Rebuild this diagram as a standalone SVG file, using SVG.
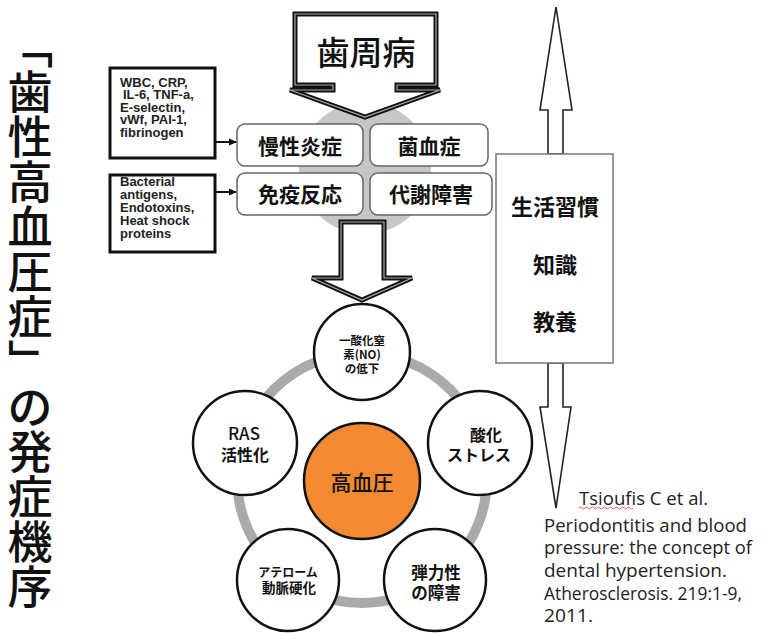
<svg xmlns="http://www.w3.org/2000/svg" width="767" height="633" viewBox="0 0 767 633">
<style>
.jp{font-family:"Noto Sans CJK JP","Noto Sans",sans-serif;fill:#111}
.tt{font-family:"Noto Sans CJK JP","Noto Sans",sans-serif;fill:#111;font-size:45px;font-weight:500;text-anchor:middle}
.en{font-family:"Liberation Sans",Arial,sans-serif;font-weight:700;fill:#222;font-size:13px}
.cite{font-family:"Open Sans","Liberation Sans",sans-serif;fill:#222;font-size:17.5px}
.rbox{fill:#fff;stroke:#666;stroke-width:1.5}
.sbox{fill:#fff;stroke:#111;stroke-width:3}
.circ{fill:#fff;stroke:#111;stroke-width:2.5}
.arrowOuter{fill:#fff;stroke:#111;stroke-width:5;stroke-linejoin:miter}
.arrowInner{fill:none;stroke:#aaa;stroke-width:1.2;stroke-linejoin:miter}
.thin{fill:#fff;stroke:#222;stroke-width:1.6;stroke-linejoin:miter}
</style>
<defs>
<marker id="ah" markerWidth="8" markerHeight="8" refX="7" refY="4" orient="auto" markerUnits="userSpaceOnUse">
<path d="M0,0.5 L8,4 L0,7.5 Z" fill="#111"/>
</marker>
</defs>
<rect width="767" height="633" fill="#fff"/>

<g id="title">
<text class="tt" x="30" y="63.5" transform="rotate(90 30 46.5)">「</text>
<text class="tt" x="30" y="108.5">歯</text>
<text class="tt" x="30" y="153.5">性</text>
<text class="tt" x="30" y="198.5">高</text>
<text class="tt" x="30" y="243.5">血</text>
<text class="tt" x="30" y="288.5">圧</text>
<text class="tt" x="30" y="333.5">症</text>
<text class="tt" x="30" y="378.5" transform="rotate(90 30 361.5)">」</text>
<text class="tt" x="30" y="423.5">の</text>
<text class="tt" x="30" y="468.5">発</text>
<text class="tt" x="30" y="513.5">症</text>
<text class="tt" x="30" y="558.5">機</text>
<text class="tt" x="30" y="603.5">序</text>
</g>

<g id="matrix-bg">
<circle cx="365" cy="168" r="66" fill="#c6c6c6"/>
</g>

<g id="connectors">
<path d="M215,142 H236" stroke="#111" stroke-width="2" marker-end="url(#ah)"/>
<path d="M215,192 H236" stroke="#111" stroke-width="2" marker-end="url(#ah)"/>
<circle cx="362" cy="478" r="125" fill="none" stroke="#aaaaaa" stroke-width="10"/>
</g>

<g id="periodontal">
<path class="arrowOuter" d="M295,14 H436 V85 H397 V90 H440 L365,117 L290,90 H333 V85 H295 Z"/>
<path class="arrowInner" d="M295,14 H436 V85 H397 V90 H440 L365,117 L290,90 H333 V85 H295 Z"/>
<text class="jp" x="366" y="65" font-size="33" font-weight="500" text-anchor="middle">歯周病</text>
</g>

<g id="chronic-inflammation">
<rect class="rbox" x="237" y="124" width="126" height="42" rx="8"/>
<text class="jp" x="300" y="154" font-size="21" font-weight="700" text-anchor="middle">慢性炎症</text>
</g>
<g id="bacteremia">
<rect class="rbox" x="370" y="124" width="118" height="42" rx="8"/>
<text class="jp" x="429" y="154" font-size="21" font-weight="700" text-anchor="middle">菌血症</text>
</g>
<g id="immune">
<rect class="rbox" x="237" y="173" width="126" height="42" rx="8"/>
<text class="jp" x="300" y="202" font-size="21" font-weight="700" text-anchor="middle">免疫反応</text>
</g>
<g id="metabolic">
<rect class="rbox" x="370" y="173" width="122" height="42" rx="8"/>
<text class="jp" x="431" y="202" font-size="21" font-weight="700" text-anchor="middle">代謝障害</text>
</g>

<g id="markers1">
<rect class="sbox" x="110" y="68" width="105" height="90"/>
<text class="en" x="120" y="87">WBC, CRP,</text>
<text class="en" x="123" y="99">IL-6, TNF-a,</text>
<text class="en" x="120" y="112">E-selectin,</text>
<text class="en" x="120" y="124">vWf, PAI-1,</text>
<text class="en" x="120" y="137">fibrinogen</text>
</g>
<g id="markers2">
<rect class="sbox" x="110" y="175" width="105" height="77"/>
<text class="en" x="120" y="186">Bacterial</text>
<text class="en" x="120" y="199">antigens,</text>
<text class="en" x="120" y="212">Endotoxins,</text>
<text class="en" x="120" y="225">Heat shock</text>
<text class="en" x="120" y="238">proteins</text>
</g>

<g id="down-arrow">
<path class="arrowOuter" d="M341,222 H384 V278 H412 L362,300 L312,278 H341 Z"/>
<path class="arrowInner" d="M341,222 H384 V278 H412 L362,300 L312,278 H341 Z"/>
</g>

<g id="no-decrease">
<circle class="circ" cx="362" cy="352" r="48"/>
<text class="jp" x="362" y="345" font-size="11.5" font-weight="700" text-anchor="middle">一酸化窒</text>
<text class="jp" x="362" y="359" font-size="11.5" font-weight="700" text-anchor="middle">素(NO)</text>
<text class="jp" x="362" y="373" font-size="11.5" font-weight="700" text-anchor="middle">の低下</text>
</g>
<g id="ras">
<circle class="circ" cx="245" cy="443" r="52"/>
<text class="jp" x="244" y="440" font-size="17" font-weight="500" text-anchor="middle">RAS</text>
<text class="jp" x="245" y="461" font-size="16" font-weight="700" text-anchor="middle">活性化</text>
</g>
<g id="oxidative">
<circle class="circ" cx="480" cy="443" r="52"/>
<text class="jp" x="486" y="441" font-size="16" font-weight="700" text-anchor="middle">酸化</text>
<text class="jp" x="479" y="461" font-size="16" font-weight="700" text-anchor="middle">ストレス</text>
</g>
<g id="atheroma">
<circle class="circ" cx="288" cy="580" r="51"/>
<text class="jp" x="288" y="577" font-size="12" font-weight="700" text-anchor="middle">アテローム</text>
<text class="jp" x="289" y="593" font-size="13.5" font-weight="700" text-anchor="middle">動脈硬化</text>
</g>
<g id="elasticity">
<circle class="circ" cx="435" cy="580" r="51"/>
<text class="jp" x="436" y="579" font-size="16.5" font-weight="700" text-anchor="middle">弾力性</text>
<text class="jp" x="436" y="599" font-size="16.5" font-weight="700" text-anchor="middle">の障害</text>
</g>
<g id="hypertension">
<circle cx="362" cy="481" r="58" fill="#f28a32" stroke="#111" stroke-width="2.5"/>
<text class="jp" x="362" y="490" font-size="21" font-weight="500" text-anchor="middle">高血圧</text>
</g>

<g id="lifestyle-arrows">
<path class="thin" d="M548,154 V110 H540 L556,7 L572,110 H563 V154 Z"/>
<path class="thin" d="M548,363 V407 H540 L556,508 L571,407 H563 V363 Z"/>
</g>
<g id="lifestyle">
<rect x="496" y="154" width="117" height="209" fill="#fff" stroke="#777" stroke-width="1.5"/>
<text class="jp" x="555" y="215" font-size="22" font-weight="700" text-anchor="middle">生活習慣</text>
<text class="jp" x="555" y="273" font-size="22" font-weight="700" text-anchor="middle">知識</text>
<text class="jp" x="555" y="330" font-size="22" font-weight="700" text-anchor="middle">教養</text>
</g>

<g id="citation">
<text class="cite" x="579" y="505" textLength="129" lengthAdjust="spacingAndGlyphs">Tsioufis C et al.</text>
<path d="M579,508 q1.5,-2 3,0 t3,0 t3,0 t3,0 t3,0 t3,0 t3,0 t3,0 t3,0 t3,0 t3,0 t3,0 t3,0 t3,0 t3,0 t3,0 t3,0 t3,0" fill="none" stroke="#e33" stroke-width="0.8"/>
<text class="cite" x="544" y="532" textLength="203" lengthAdjust="spacingAndGlyphs">Periodontitis and blood</text>
<text class="cite" x="544" y="554" textLength="208" lengthAdjust="spacingAndGlyphs">pressure: the concept of</text>
<text class="cite" x="544" y="577" textLength="183" lengthAdjust="spacingAndGlyphs">dental hypertension.</text>
<text class="cite" x="544" y="600" textLength="198" lengthAdjust="spacingAndGlyphs">Atherosclerosis. 219:1-9,</text>
<text class="cite" x="544" y="622" textLength="49" lengthAdjust="spacingAndGlyphs">2011.</text>
</g>
</svg>
